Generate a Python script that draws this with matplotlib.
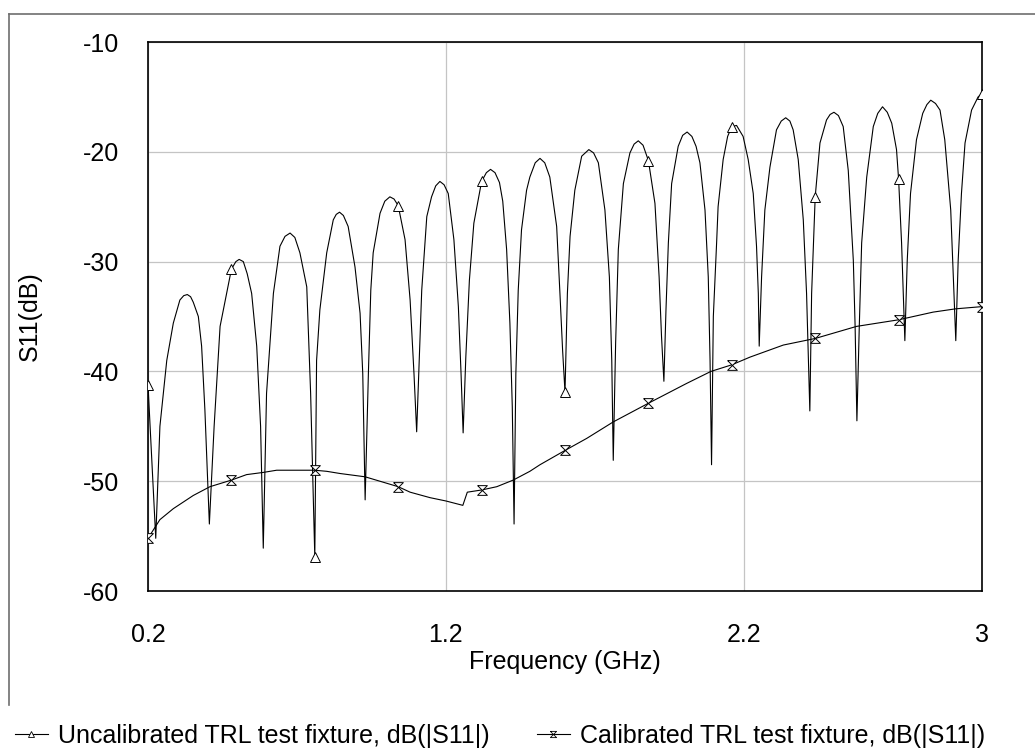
"""S11 of the TRL test fixture, before and after calibration."""

import matplotlib

matplotlib.use("Agg")
import matplotlib.pyplot as plt
from matplotlib.lines import Line2D

# uncalibrated fixture, dB(|S11|) vs frequency (GHz)
FREQ_UNCAL = [
    0.200, 0.226, 0.240, 0.263, 0.285, 0.307, 0.320, 0.332, 0.343, 0.352, 0.369, 0.380,
    0.391, 0.406, 0.422, 0.442, 0.480, 0.495, 0.506, 0.520, 0.533, 0.548, 0.565, 0.578,
    0.587, 0.598, 0.621, 0.643, 0.660, 0.677, 0.693, 0.710, 0.733, 0.746, 0.760, 0.766,
    0.777, 0.800, 0.822, 0.832, 0.843, 0.856, 0.872, 0.895, 0.912, 0.921, 0.929, 0.940,
    0.948, 0.956, 0.979, 0.995, 1.012, 1.026, 1.040, 1.063, 1.080, 1.093, 1.102, 1.109,
    1.119, 1.136, 1.152, 1.166, 1.180, 1.194, 1.208, 1.227, 1.242, 1.251, 1.258, 1.267,
    1.279, 1.294, 1.320, 1.336, 1.350, 1.365, 1.380, 1.391, 1.404, 1.415, 1.423, 1.429,
    1.435, 1.443, 1.454, 1.471, 1.482, 1.500, 1.516, 1.532, 1.549, 1.572, 1.583, 1.592,
    1.600, 1.608, 1.617, 1.633, 1.656, 1.680, 1.696, 1.712, 1.734, 1.749, 1.757, 1.762,
    1.770, 1.779, 1.796, 1.818, 1.832, 1.846, 1.862, 1.880, 1.902, 1.916, 1.924, 1.932,
    1.939, 1.947, 1.958, 1.980, 1.995, 2.010, 2.026, 2.040, 2.053, 2.070, 2.081, 2.087,
    2.092, 2.098, 2.109, 2.114, 2.131, 2.146, 2.160, 2.176, 2.198, 2.215, 2.232, 2.243,
    2.249, 2.252, 2.260, 2.271, 2.288, 2.310, 2.326, 2.341, 2.355, 2.366, 2.383, 2.400,
    2.411, 2.422, 2.428, 2.440, 2.456, 2.478, 2.490, 2.503, 2.518, 2.534, 2.551, 2.568,
    2.574, 2.580, 2.588, 2.596, 2.613, 2.635, 2.650, 2.666, 2.682, 2.697, 2.713, 2.720,
    2.730, 2.741, 2.749, 2.760, 2.780, 2.801, 2.815, 2.828, 2.844, 2.859, 2.875, 2.895,
    2.906, 2.912, 2.920, 2.931, 2.943, 2.965, 2.987, 3.000,
]
S11_UNCAL = [
    -41.2, -55.2, -45.0, -39.0, -35.6, -33.5, -33.1, -33.0, -33.2, -33.7, -35.0, -37.7,
    -43.5, -53.9, -45.0, -35.9, -30.7, -30.0, -29.8, -30.0, -31.1, -32.9, -37.7, -45.0,
    -56.1, -42.0, -32.9, -28.6, -27.7, -27.4, -27.8, -29.2, -32.3, -42.0, -56.9, -39.0,
    -34.4, -29.2, -26.2, -25.7, -25.5, -25.8, -26.8, -30.5, -34.7, -40.2, -51.7, -40.1,
    -32.6, -29.2, -25.6, -24.5, -24.1, -24.3, -24.9, -28.0, -33.5, -40.2, -45.5, -40.2,
    -32.6, -25.9, -24.1, -23.1, -22.7, -23.0, -23.8, -28.0, -34.1, -40.2, -45.6, -38.7,
    -31.7, -26.5, -22.7, -21.9, -21.6, -21.9, -22.8, -24.5, -28.9, -35.6, -43.2, -53.9,
    -40.2, -32.6, -27.1, -23.5, -22.3, -21.0, -20.6, -21.0, -22.3, -26.8, -32.9, -38.1,
    -41.9, -32.9, -27.7, -23.5, -20.4, -19.8, -20.1, -21.0, -25.3, -31.4, -39.0, -48.1,
    -37.4, -28.9, -22.9, -20.1, -19.3, -19.0, -19.4, -20.8, -24.7, -31.4, -36.8, -40.9,
    -34.4, -28.3, -22.9, -19.5, -18.5, -18.2, -18.6, -19.5, -21.0, -25.3, -31.4, -39.0,
    -48.5, -35.0, -28.3, -25.0, -20.7, -18.6, -17.7, -17.6, -18.6, -20.7, -23.8, -28.6,
    -32.9, -37.7, -31.4, -25.3, -21.4, -18.0, -17.2, -16.9, -17.2, -18.0, -20.7, -26.2,
    -32.9, -43.6, -32.9, -24.1, -19.2, -17.1, -16.6, -16.4, -16.7, -17.7, -21.7, -29.9,
    -35.9, -44.5, -35.9, -28.3, -22.3, -17.7, -16.5, -15.9, -16.4, -17.4, -19.8, -22.5,
    -28.3, -37.2, -29.9, -23.8, -18.9, -16.5, -15.7, -15.3, -15.6, -16.2, -18.9, -25.3,
    -32.9, -37.2, -29.9, -23.8, -19.2, -16.2, -15.0, -14.7,
]

# calibrated fixture
FREQ_CAL = [
    0.200, 0.240, 0.285, 0.352, 0.408, 0.480, 0.531, 0.587, 0.632, 0.760, 0.800, 0.845,
    0.929, 1.040, 1.080, 1.147, 1.200, 1.257, 1.272, 1.320, 1.371, 1.426, 1.482, 1.516,
    1.600, 1.673, 1.762, 1.880, 2.008, 2.090, 2.160, 2.221, 2.333, 2.440, 2.579, 2.720,
    2.836, 2.912, 3.000,
]
S11_CAL = [
    -55.2, -53.5, -52.5, -51.3, -50.5, -49.9, -49.4, -49.2, -49.0, -49.0, -49.1, -49.3,
    -49.6, -50.5, -51.0, -51.5, -51.8, -52.2, -51.0, -50.8, -50.5, -49.9, -49.1, -48.5,
    -47.2, -46.1, -44.6, -42.9, -41.1, -40.0, -39.4, -38.7, -37.6, -37.0, -35.9, -35.3,
    -34.6, -34.3, -34.1,
]

MARKER_FREQ = [0.2, 0.48, 0.76, 1.04, 1.32, 1.6, 1.88, 2.16, 2.44, 2.72, 3.0]
X_TICKS = [0.2, 1.2, 2.2, 3.0]
X_TICK_LABELS = ["0.2", "1.2", "2.2", "3"]
Y_TICKS = [-60, -50, -40, -30, -20, -10]
LABEL_UNCAL = "Uncalibrated TRL test fixture, dB(|S11|)"
LABEL_CAL = "Calibrated TRL test fixture, dB(|S11|)"

W, H = 1035, 749
HOURGLASS = [(-1, 1), (1, 1), (-1, -1), (1, -1), (-1, 1)]
FONT = 18


def _marker_idx(freqs):
    return [i for i, f in enumerate(freqs) if any(abs(f - m) < 1e-6 for m in MARKER_FREQ)]


plt.rcParams.update({
    "font.family": ["Liberation Sans", "DejaVu Sans"],
    "font.size": FONT,
    "axes.unicode_minus": False,
})

fig = plt.figure(figsize=(W / 100, H / 100), dpi=100)
ax = fig.add_axes([148 / W, 1 - 591 / H, (982 - 148) / W, (591 - 42) / H])

ax.plot(FREQ_UNCAL, S11_UNCAL, color="black", lw=0.8, marker="^", ms=7,
        mfc="white", mec="black", mew=0.7, markevery=_marker_idx(FREQ_UNCAL), zorder=3)
ax.plot(FREQ_CAL, S11_CAL, color="black", lw=0.8, marker=HOURGLASS, ms=7,
        mfc="white", mec="black", mew=0.7, markevery=_marker_idx(FREQ_CAL), zorder=3)

ax.set_xlim(0.2, 3.0)
ax.set_ylim(-60, -10)
ax.set_xticks(X_TICKS)
ax.set_xticklabels(X_TICK_LABELS)
ax.set_yticks(Y_TICKS)
ax.grid(True, color="#c4c4c4", lw=0.9)
ax.set_axisbelow(True)
ax.tick_params(axis="both", length=0, labelsize=FONT)
ax.tick_params(axis="x", pad=23)
ax.tick_params(axis="y", pad=21)
for spine in ax.spines.values():
    spine.set_color("black")
    spine.set_linewidth(1.2)

fig.text(565 / W, 1 - 662 / H, "Frequency (GHz)", ha="center", va="center", fontsize=FONT)
fig.text(30 / W, 1 - 316 / H, "S11(dB)", ha="center", va="center", rotation=90, fontsize=FONT)

# partial outer frame
fig.add_artist(Line2D([9 / W, 1.0], [1 - 14 / H, 1 - 14 / H], transform=fig.transFigure,
                      color="#6e6e6e", lw=1.2))
fig.add_artist(Line2D([9 / W, 9 / W], [1 - 14 / H, 1 - 705 / H], transform=fig.transFigure,
                      color="#6e6e6e", lw=1.2))

for label, marker, x0 in ((LABEL_UNCAL, "^", 15), (LABEL_CAL, HOURGLASS, 537)):
    handle = Line2D([], [], color="black", lw=0.8, marker=marker, ms=4.5,
                    mfc="white", mec="black", mew=0.6)
    fig.legend([handle], [label], loc="center left", bbox_to_anchor=(x0 / W, 1 - 736 / H),
               frameon=False, borderpad=0, borderaxespad=0, handlelength=1.3,
               handletextpad=0.4, fontsize=FONT)

fig.savefig("out.png", dpi=100)
